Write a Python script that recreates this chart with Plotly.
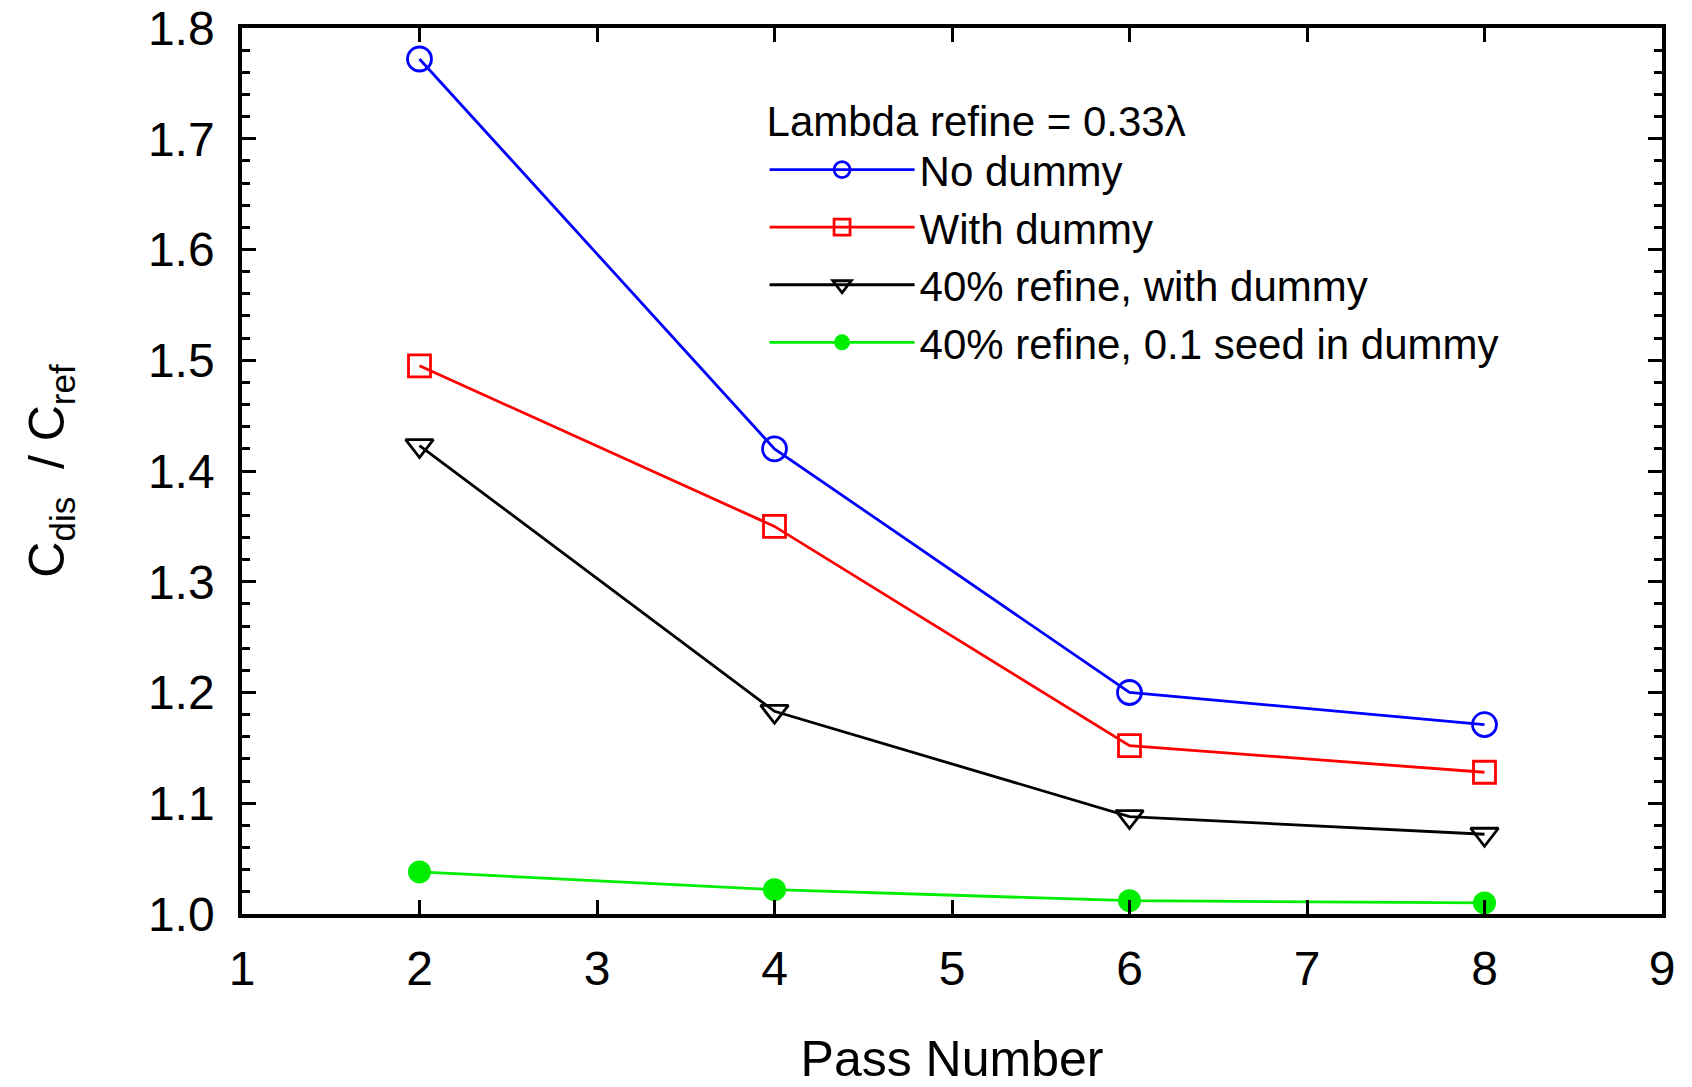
import plotly.graph_objects as go

pass_number = [2, 4, 6, 8]
no_dummy = [1.772, 1.420, 1.200, 1.171]
with_dummy = [1.495, 1.350, 1.152, 1.128]
refine40_dummy = [1.423, 1.183, 1.088, 1.072]
refine40_seed = [1.038, 1.022, 1.012, 1.010]

series_names = ["No dummy", "With dummy", "40% refine, with dummy", "40% refine, 0.1 seed in dummy"]
x_ticks = [1, 2, 3, 4, 5, 6, 7, 8, 9]
y_ticks = [1.0, 1.1, 1.2, 1.3, 1.4, 1.5, 1.6, 1.7, 1.8]
y_tick_labels = ["1.0", "1.1", "1.2", "1.3", "1.4", "1.5", "1.6", "1.7", "1.8"]

FONT = "Liberation Sans, Arial, sans-serif"

fig = go.Figure()
fig.add_trace(go.Scatter(x=pass_number, y=no_dummy, name=series_names[0], mode="lines+markers",
                         line=dict(color="#0000ff", width=2.8),
                         marker=dict(symbol="circle-open", size=24, color="#0000ff", line=dict(width=2.8))))
fig.add_trace(go.Scatter(x=pass_number, y=with_dummy, name=series_names[1], mode="lines+markers",
                         line=dict(color="#ff0000", width=2.8),
                         marker=dict(symbol="square-open", size=22, color="#ff0000", line=dict(width=2.8))))
fig.add_trace(go.Scatter(x=pass_number, y=refine40_dummy, name=series_names[2], mode="lines+markers",
                         line=dict(color="#000000", width=2.8),
                         marker=dict(symbol="triangle-down-open", size=24, color="#000000", line=dict(width=2.8))))
fig.add_trace(go.Scatter(x=pass_number, y=refine40_seed, name=series_names[3], mode="lines+markers",
                         line=dict(color="#00ee00", width=2.8),
                         marker=dict(symbol="circle", size=23, color="#00ee00")))

fig.update_layout(
    width=1692, height=1087,
    margin=dict(l=242, r=30, t=28, b=173),
    paper_bgcolor="white", plot_bgcolor="white",
    font=dict(family=FONT, color="black", size=44),
    showlegend=True,
    legend=dict(
        x=0.368, y=0.94, xanchor="left", yanchor="top",
        bgcolor="rgba(0,0,0,0)",
        font=dict(size=42, family=FONT),
        title=dict(text="Lambda refine = 0.33λ", font=dict(size=42, family=FONT), side="top"),
        itemwidth=145,
        tracegroupgap=0,
    ),
)
fig.update_xaxes(
    range=[1, 9], tickvals=x_ticks, ticktext=[str(v) for v in x_ticks],
    ticks="inside", ticklen=14, tickwidth=2.5, tickcolor="black",
    showline=True, linecolor="black", linewidth=3.5, mirror="ticks",
    showgrid=False, zeroline=False, automargin=False,
    tickfont=dict(size=48, family=FONT),
    ticklabelstandoff=10,
    title=dict(text="Pass Number", font=dict(size=50, family=FONT), standoff=58),
)
fig.update_yaxes(
    range=[1.0, 1.8], tickvals=y_ticks, ticktext=y_tick_labels,
    ticks="inside", ticklen=14, tickwidth=3, tickcolor="black",
    minor=dict(ticks="inside", ticklen=8, dtick=0.02, tickwidth=3, tickcolor="black", showgrid=False),
    showline=True, linecolor="black", linewidth=3.5, mirror="ticks",
    showgrid=False, zeroline=False, automargin=False,
    tickfont=dict(size=48, family=FONT),
    ticklabelstandoff=14,
    title=dict(text="C<sub>dis</sub>  / C<sub>ref</sub>", font=dict(size=50, family=FONT), standoff=68),
)

fig.write_html("out.html")
